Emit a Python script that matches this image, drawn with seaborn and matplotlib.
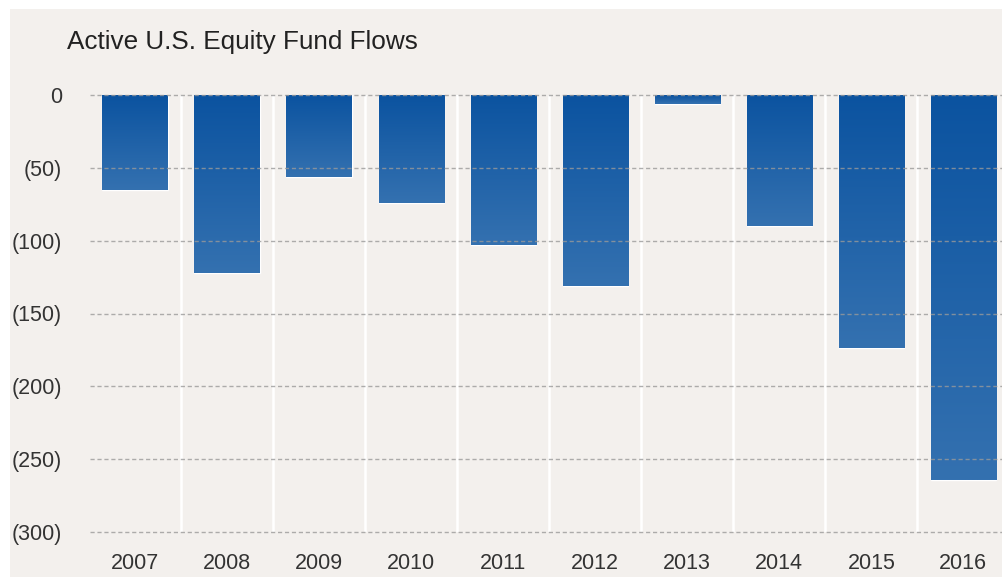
import numpy as np
import pandas as pd
import matplotlib
matplotlib.use("Agg")
import matplotlib.pyplot as plt
import seaborn as sns
from matplotlib.patches import Rectangle
from matplotlib.colors import LinearSegmentedColormap

years = ["2007", "2008", "2009", "2010", "2011", "2012", "2013", "2014", "2015", "2016"]
flows = [-65, -122, -56, -74, -103, -131, -6, -90, -174, -264]
yticks = [0, -50, -100, -150, -200, -250, -300]
ytick_labels = ["0", "(50)", "(100)", "(150)", "(200)", "(250)", "(300)"]
title = "Active U.S. Equity Fund Flows"

sns.set_theme(style="white")
plt.rcParams['font.family'] = ['Liberation Sans', 'DejaVu Sans']

BG = "#f3f0ed"
TXT = "#333333"

fig = plt.figure(figsize=(10.02, 5.77), dpi=100)
fig.patch.set_facecolor("white")
fig.patches.append(Rectangle((10/1002, 0), 1 - 10/1002, 1 - 9/577,
                             transform=fig.transFigure, facecolor=BG,
                             edgecolor="none", zorder=-10))
ax = fig.add_axes([90/1002, 45/577, 1 - 90/1002, (532 - 95)/577])
ax.set_facecolor(BG)

df = pd.DataFrame({"year": years, "flow": flows})
sns.barplot(data=df, x="year", y="flow", color="#1a5ea6", width=0.71,
            saturation=1, ax=ax, zorder=2)

# gradient fill on bars
grad = np.linspace(0, 1, 256).reshape(-1, 1)
cmap = LinearSegmentedColormap.from_list("g", ["#3471b0", "#0b53a0"])
for p in list(ax.patches):
    x0, y0 = p.get_x(), p.get_y()
    w, h = p.get_width(), p.get_height()
    ylo, yhi = min(y0, y0 + h), max(y0, y0 + h)
    im = ax.imshow(grad, extent=[x0, x0 + w, ylo, yhi], aspect="auto",
                   cmap=cmap, origin="lower", zorder=2.5)
    im.set_clip_path(p)
ax.set_xlim(-0.49, 9.42)
ax.set_ylim(-300, 0)

for xv in np.arange(0.5, len(years) - 0.5, 1):
    ax.axvline(xv, color="white", lw=1.8, zorder=1)

for yv in yticks:
    ax.axhline(yv, color="#9a9a9a", lw=1.0, ls=(0, (3, 2)), alpha=0.8,
               zorder=3, clip_on=False)

ax.set_yticks(yticks)
ax.set_yticklabels(ytick_labels)
ax.tick_params(axis="y", length=0, pad=20, labelsize=15.5, labelcolor=TXT)
ax.tick_params(axis="x", length=0, pad=15, labelsize=15.5, labelcolor=TXT)
ax.set_xlabel("")
ax.set_ylabel("")
for s in ax.spines.values():
    s.set_visible(False)

fig.text(67/1002, 1 - 42/577, title, fontsize=18.8, color="#222222",
         ha="left", va="center")

fig.savefig("out.png", dpi=100, facecolor=fig.get_facecolor())
